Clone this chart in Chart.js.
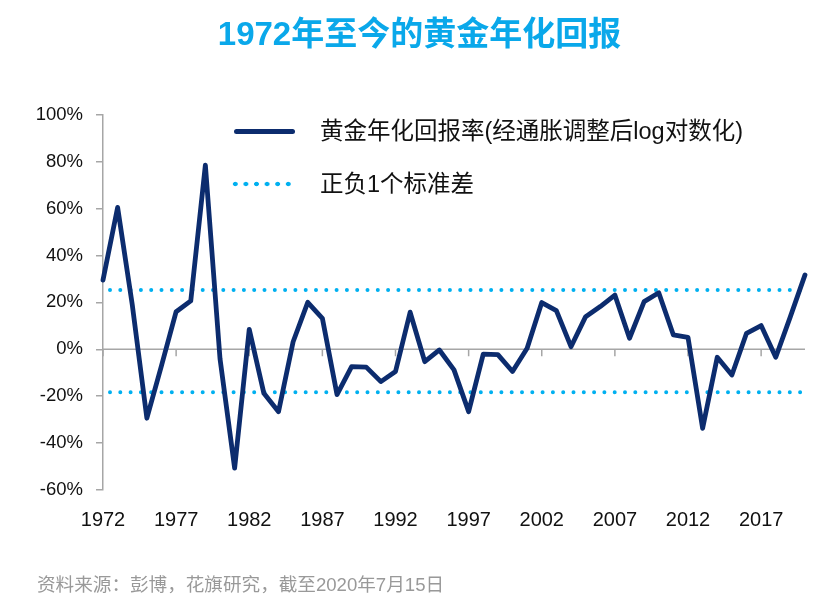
<!DOCTYPE html>
<html>
<head>
<meta charset="utf-8">
<script src="https://cdn.jsdelivr.net/npm/chart.js@4.4.0/dist/chart.umd.min.js"></script>
<style>
  html, body { margin: 0; padding: 0; background: #fff; }
  #wrap { position: relative; width: 839px; height: 613px; overflow: hidden; }
  #chart { position: absolute; left: 0; top: 0; }
  .cjk { font-family: "Liberation Sans", "Noto Sans CJK SC", sans-serif; }
  #title { position: absolute; left: 0; width: 839px; top: 14px; text-align: center;
           font-size: 33px; font-weight: bold; color: #0aa8ea; line-height: 40px; }
  .legend-row { position: absolute; left: 234px; height: 30px; }
  .legend-row span { position: absolute; left: 86px; top: 0; font-size: 23.5px; line-height: 30px; color: #111; white-space: nowrap; }
  .swatch-line { position: absolute; left: 0; top: 12.5px; width: 61px; height: 5px; background: #0c2c6e; border-radius: 3px; }
  .swatch-dots { position: absolute; left: -4px; top: 12px; width: 64px; height: 6px;
                 background: radial-gradient(circle, #00b0f0 2px, rgba(0,176,240,0) 2.6px) 0 0 / 10.6px 6px repeat-x; }
  #footer { position: absolute; left: 37px; top: 574px; font-size: 18.6px; line-height: 22px; color: #999; white-space: nowrap; }
</style>
</head>
<body>
<div id="wrap">
  <canvas id="chart" width="839" height="613"></canvas>
  <div id="title" class="cjk">1972年至今的黄金年化回报</div>
  <div class="legend-row" style="top:116px;"><div class="swatch-line"></div><span class="cjk">黄金年化回报率(经通胀调整后log对数化)</span></div>
  <div class="legend-row" style="top:169px;"><div class="swatch-dots"></div><span class="cjk">正负1个标准差</span></div>
  <div id="footer" class="cjk">资料来源：彭博，花旗研究，截至2020年7月15日</div>
</div>
<script>
// years on the x axis (every 5th one is labelled)
var years = ['1972','1973','1974','1975','1976','1977','1978','1979','1980','1981',
             '1982','1983','1984','1985','1986','1987','1988','1989','1990','1991',
             '1992','1993','1994','1995','1996','1997','1998','1999','2000','2001',
             '2002','2003','2004','2005','2006','2007','2008','2009','2010','2011',
             '2012','2013','2014','2015','2016','2017','2018','2019','2020'];

// inflation adjusted, log annual gold return, %
var goldReturns = [29.5, 60.5, 19, -29.4, -7, 16, 20.6, 78.5, -4, -50.7,
                   8.5, -18.8, -26.6, 3.2, 20, 13.2, -19.3, -7.4, -7.6, -13.8,
                   -9.5, 15.8, -5.3, -0.3, -8.8, -26.6, -2.1, -2.3, -9.5, 0.4,
                   19.9, 16.5, 1.1, 13.9, 18.2, 23.1, 4.7, 20.3, 24.1, 6.1,
                   5.1, -33.7, -3.4, -11, 6.8, 10.1, -3.4, 13.9, 31.7];

// +1 / -1 standard deviation, %
var sdUpper = 25.3;
var sdLower = -18.3;

var yTicks = { min: -60, max: 100, step: 20 };

var navy = '#0c2c6e';
var sky = '#00b0f0';
var axisGrey = '#a6a6a6';

// horizontal axis line at 0% with a tick every 5 years, drawn under the data
var zeroAxis = {
    id: 'zeroAxis',
    beforeDatasetsDraw: function(chart) {
        var ctx = chart.ctx, a = chart.chartArea;
        var x = chart.scales.x, y = chart.scales.y;
        var y0 = y.getPixelForValue(0);
        ctx.save();
        ctx.strokeStyle = axisGrey;
        ctx.lineWidth = 1.5;
        ctx.beginPath();
        ctx.moveTo(a.left, y0);
        ctx.lineTo(a.right, y0);
        for (var i = 0; i < years.length; i += 5) {
            var px = x.getPixelForValue(i);
            ctx.moveTo(px, y0);
            ctx.lineTo(px, y0 + 7);
        }
        ctx.stroke();
        ctx.restore();
    }
};

function sdLine(v) {
    return [{ x: years[0], y: v }, { x: years[years.length - 1], y: v }];
}

var dotted = {
    borderColor: sky,
    borderWidth: 4,
    borderDash: [0, 10.3],
    borderDashOffset: 3.3,
    borderCapStyle: 'round',
    pointRadius: 0,
    fill: false
};

new Chart(document.getElementById('chart').getContext('2d'), {
    type: 'line',
    data: {
        labels: years,
        datasets: [
            Object.assign({ label: '+1 sd', data: sdLine(sdUpper), order: 2 }, dotted),
            Object.assign({ label: '-1 sd', data: sdLine(sdLower), order: 2 }, dotted),
            {
                label: '黄金年化回报率',
                data: goldReturns,
                borderColor: navy,
                borderWidth: 4.8,
                borderJoinStyle: 'round',
                borderCapStyle: 'round',
                tension: 0,
                pointRadius: 0,
                fill: false,
                clip: false,
                order: 1
            }
        ]
    },
    options: {
        responsive: false,
        animation: false,
        layout: { padding: { top: 114.7, right: 34, bottom: 73, left: 0 } },
        plugins: { legend: { display: false }, tooltip: { enabled: false } },
        scales: {
            x: {
                type: 'category',
                offset: false,
                grid: { display: false, drawTicks: false },
                border: { display: false },
                ticks: {
                    autoSkip: false,
                    maxRotation: 0,
                    padding: 18,
                    color: '#111',
                    font: { family: '"Liberation Sans Narrow", "Liberation Sans", Arial', size: 20 },
                    callback: function(v, i) { return i % 5 === 0 ? this.getLabelForValue(v) : ''; }
                },
                afterFit: function(s) { s.height = 50; }
            },
            y: {
                min: yTicks.min,
                max: yTicks.max,
                ticks: {
                    stepSize: yTicks.step,
                    padding: 13,
                    color: '#111',
                    font: { family: '"Liberation Sans", Arial', size: 18.5 },
                    callback: function(v) { return v + '%'; }
                },
                grid: { drawOnChartArea: false, drawTicks: true, tickLength: 7, color: axisGrey, lineWidth: 1.5 },
                border: { color: axisGrey, width: 1.5 },
                afterFit: function(s) { s.width = 103; }
            }
        }
    },
    plugins: [zeroAxis]
});
</script>
</body>
</html>
